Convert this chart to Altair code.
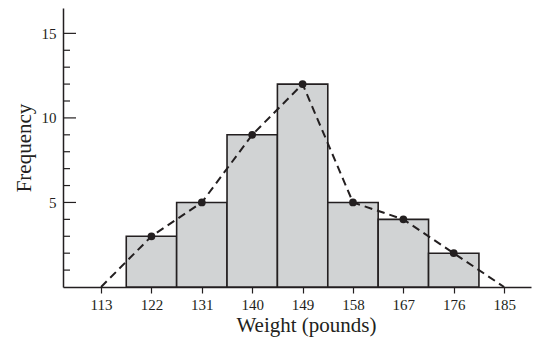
import altair as alt
import pandas as pd

class_marks = [122, 131, 140, 149, 158, 167, 176]
frequencies = [3, 5, 9, 12, 5, 4, 2]
bin_width = 9
polygon_x = [113, 122, 131, 140, 149, 158, 167, 176, 185]
polygon_y = [0, 3, 5, 9, 12, 5, 4, 2, 0]
x_ticks = [113, 122, 131, 140, 149, 158, 167, 176, 185]
y_major = [5, 10, 15]
y_minor = [1, 2, 3, 4, 6, 7, 8, 9, 11, 12, 13, 14]

INK = "#231f20"
FONT = "Liberation Serif"

bars = pd.DataFrame({
    "start": [c - bin_width / 2 for c in class_marks],
    "end": [c + bin_width / 2 for c in class_marks],
    "freq": frequencies,
})
poly = pd.DataFrame({"w": polygon_x, "f": polygon_y, "o": list(range(len(polygon_x)))})
pts = pd.DataFrame({"w": class_marks, "f": frequencies})
major = pd.DataFrame({"v": y_major})
minor = pd.DataFrame({"v": y_minor})

xs = alt.Scale(domain=[106.2, 189.8], nice=False, zero=False)
ys = alt.Scale(domain=[0, 16.5], nice=False)

x_axis = alt.Axis(values=x_ticks, title="Weight (pounds)", grid=False,
                  tickSize=6, tickColor=INK, tickWidth=1.2, domainColor=INK, domainWidth=1.5,
                  labelFont=FONT, labelFontSize=15, labelColor=INK, labelPadding=4,
                  titleFont=FONT, titleFontSize=21, titleFontWeight="normal", titleColor=INK,
                  titlePadding=2, titleX=243, titleAlign="center")
y_axis = alt.Axis(values=y_major, title="Frequency", grid=False, ticks=False,
                  domainColor=INK, domainWidth=1.5,
                  labelFont=FONT, labelFontSize=15, labelColor=INK, labelPadding=7,
                  titleFont=FONT, titleFontSize=21, titleFontWeight="normal", titleColor=INK,
                  titlePadding=7)

bar_layer = alt.Chart(bars).mark_rect(fill="#d1d3d4", stroke=INK, strokeWidth=1.6).encode(
    x=alt.X("start:Q", scale=xs, axis=x_axis),
    x2="end:Q",
    y=alt.Y("freq:Q", scale=ys, axis=y_axis),
    y2=alt.datum(0),
)

line_layer = alt.Chart(poly).mark_line(color=INK, strokeWidth=2, strokeDash=[8, 5]).encode(
    x=alt.X("w:Q", scale=xs),
    y=alt.Y("f:Q", scale=ys),
    order="o:O",
)

pt_layer = alt.Chart(pts).mark_circle(color=INK, opacity=1, size=60).encode(
    x=alt.X("w:Q", scale=xs),
    y=alt.Y("f:Q", scale=ys),
)

major_ticks = alt.Chart(major).mark_rule(color=INK, strokeWidth=1.2).encode(
    x=alt.value(0), x2=alt.value(13), y=alt.Y("v:Q", scale=ys),
)
minor_ticks = alt.Chart(minor).mark_rule(color=INK, strokeWidth=1.2).encode(
    x=alt.value(0), x2=alt.value(7), y=alt.Y("v:Q", scale=ys),
)

chart = alt.layer(bar_layer, major_ticks, minor_ticks, line_layer, pt_layer).properties(
    width=468, height=279,
    autosize=alt.AutoSizeParams(type="none"),
    padding={"left": 55, "top": 0, "right": 2, "bottom": 52},
    background="white",
).configure_view(stroke=None)

chart.save("out.html", embed_options={"renderer": "svg", "actions": False})
